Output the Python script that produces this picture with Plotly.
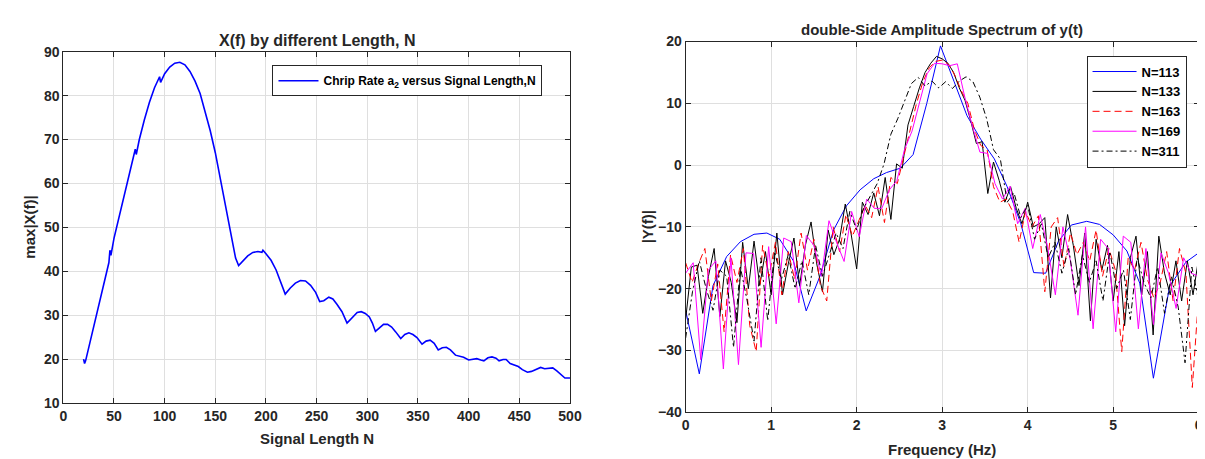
import numpy as np
import plotly.graph_objects as go

# ---- left chart: max|X(f)| versus signal length
sig_len = [20, 21, 22, 25, 30, 35, 40, 45, 46, 47, 50, 55, 60, 65, 70, 71, 72, 75, 80, 85, 90, 95, 96,
           100, 105, 110, 115, 120, 125, 130, 135, 140, 145, 150, 155, 160, 165, 170, 173, 177, 182,
           187, 192, 196, 197, 200, 205, 210, 215, 219, 224, 229, 234, 239, 244, 249, 253, 257, 262,
           266, 270, 272, 275, 280, 285, 290, 294, 298, 302, 305, 308, 312, 316, 320, 324, 328, 333,
           337, 341, 345, 349, 354, 358, 362, 366, 370, 374, 378, 382, 387, 391, 395, 400, 404, 408,
           412, 415, 419, 423, 427, 430, 434, 437, 441, 445, 449, 453, 458, 462, 467, 471, 475, 479,
           483, 487, 491, 495, 500]
max_xf = [20.0, 19.0, 19.6, 22.5, 27.3, 32.0, 37.0, 42.0, 44.8, 43.6, 47.5, 52.2, 57.0, 61.8, 66.5,
          67.8, 66.6, 70.0, 74.5, 78.5, 81.8, 84.3, 83.0, 85.0, 86.5, 87.4, 87.6, 87.0, 85.5, 83.3,
          80.5, 76.5, 72.0, 67.0, 61.0, 55.0, 49.5, 43.0, 41.3, 42.3, 43.5, 44.3, 44.5, 44.3, 44.8,
          44.0, 42.5, 40.3, 37.0, 34.8, 36.2, 37.3, 37.9, 37.8, 36.8, 35.2, 33.1, 33.3, 34.1, 33.7,
          32.5, 31.8, 30.8, 28.2, 29.5, 30.6, 30.8, 30.4, 29.6, 28.2, 26.3, 27.2, 27.9, 27.9, 27.3,
          26.2, 24.7, 25.6, 26.0, 25.6, 24.9, 23.4, 24.1, 24.3, 23.6, 22.1, 22.6, 22.7, 22.1, 20.9,
          20.7, 20.4, 19.8, 19.9, 20.1, 19.8, 19.6, 20.3, 20.5, 20.2, 19.6, 19.9, 19.9, 19.0, 18.6,
          18.3, 17.6, 17.0, 17.2, 17.7, 18.1, 17.8, 17.9, 18.0, 17.3, 16.4, 15.7, 15.7]

# ---- right chart: amplitude spectra
f113 = [0.00, 0.16, 0.32, 0.48, 0.64, 0.80, 0.95, 1.10, 1.26, 1.41, 1.57, 1.73, 1.88, 2.04, 2.20,
        2.35, 2.51, 2.66, 2.82, 2.98, 3.14, 3.29, 3.45, 3.61, 3.76, 3.92, 4.07, 4.21, 4.36, 4.51,
        4.69, 4.84, 5.00, 5.16, 5.31, 5.47, 5.66, 5.85, 6.00]
y113 = [-23.5, -33.8, -19.5, -14.8, -12.4, -11.2, -11.0, -12.0, -15.5, -23.6, -18.0, -10.5, -6.6,
        -4.0, -2.2, -1.2, -0.5, 1.7, 10.0, 19.3, 13.5, 8.0, 4.2, 1.0, -3.5, -9.5, -17.4, -17.5,
        -12.3, -9.7, -9.1, -9.6, -11.3, -13.9, -19.1, -34.5, -19.6, -15.7, -14.2]

y133 = [-25, -16.5, -16.2, -24, -18, -13.5, -24.5, -15.5, -19, -25.5, -12.5, -20, -12.3, -19.5, -14,
        -21, -11, -21, -16, -11.8, -19.5, -13, -9.2, -16, -20.5, -10.5, -14.5, -12, -6.3, -11,
        -16.8, -6, -8, -4.5, -8.2, -2, -8.8, 0.2, -0.5, 6.5, 9.5, 12.5, 15, 16.5, 17.6,
        17.2, 16.5, 15, 12.5, 10.5, 7.2, 3.5, 3.8, -4.6, 0.5, -2.5, -6, -3.5, -7, -9.5,
        -6, -10, -9.5, -8.5, -21.5, -10, -15, -8, -13, -19.5, -11, -25.2, -12, -17, -13,
        -22, -14, -26, -15, -11.5, -21, -14, -27.5, -11.5, -17.5, -21, -15.5, -22, -15.5, -21,
        -15]

y163 = [-15.8, -19, -16, -13.5, -22, -16, -27, -14.5, -19, -13.5, -26, -30.2, -13, -18, -12.5,
        -21, -14, -18.5, -11, -17, -12, -19.5, -22, -10, -14, -8, -11.5, -9, -6.5, -8.5,
        -3.5, -9.3, -2, -3, 1.5, 6, 10, 13.5, 15.8, 16.8, 17.0, 16.3, 14.5, 12, 10,
        5.8, 3.2, 2.5, -3.5, -6, -5.5, -7.5, -12.5, -7.5, -10, -8.2, -20.5, -10, -8.5, -16.5,
        -11, -14.5, -12.5, -15.5, -10.5, -18, -13.5, -17, -30.2, -15, -17, -12.5, -18.5, -21.5, -19,
        -14, -22, -13.5, -17.5, -36, -21]

y169 = [-17.5, -15.8, -31.5, -17, -15.5, -33, -15, -32.3, -14.2, -14.3, -29.5, -13.2, -25.7, -11.8,
        -12.4, -22.3, -11.4, -13, -18, -9.0, -12.5, -15.6, -7.5, -11.6, -5.5, -7.0, -7.0, -4.0,
        -2.5, 2.5, 5.5, 10.0, 14.8, 16.5, 16.4, 16.1, 16.4, 11.0, 6.3, 2.1, 1.9, -3.0, -5.5,
        -3.4, -9.5, -7.0, -13.5, -8.0, -13.5, -21.0, -10.0, -15.5, -24.3, -10.0, -26.5, -12.0,
        -13.5, -27.0, -11.5, -12.5, -26.5, -13.5, -25.8, -14.2, -17.5, -23.2, -15.0, -17.5, -18.0]

y311 = [-28, -20.5, -15.5, -20, -23.5, -17, -18, -29.5, -16.5, -22, -28.5, -15, -25.2, -14, -18.5,
        -14.5, -20, -15.5, -21, -13, -18, -14.5, -11, -13.5, -7.5, -10.5, -7, -5, -3, 0.2,
        5.0, 7.5, 10.5, 13.2, 14.2, 12.8, 13.6, 12.5, 13.5, 12.4, 13.6, 14.3, 13.5, 11, 7.5,
        2.5, 1.0, -6, -4.5, -8.5, -6.5, -12, -9.5, -15, -12.5, -17.5, -13.5, -21, -14.5, -19,
        -15.5, -22, -14, -20, -17, -25, -15, -19, -21.5, -16.5, -24, -18, -23, -32, -16.5,
        -22]

FONT = "Arial, Liberation Sans, Helvetica, sans-serif"
TXT = "#262626"

fig = go.Figure()
fig.add_trace(go.Scatter(x=sig_len, y=max_xf, mode="lines", line=dict(color="#0000ff", width=1.6),
                         name="Chrip Rate a<sub>2</sub> versus Signal Length,N", showlegend=True,
                         xaxis="x", yaxis="y", legend="legend"))

spectra = [("N=113", f113, y113, "#0000ff", "solid"),
           ("N=133", None, y133, "#000000", "solid"),
           ("N=163", None, y163, "#ff0000", "7px,4px"),
           ("N=169", None, y169, "#ff00ff", "solid"),
           ("N=311", None, y311, "#000000", "6px,3px,2px,3px")]
for name, fx, fy, col, dash in spectra:
    if fx is None:
        fx = np.linspace(0, 6, len(fy))
    fig.add_trace(go.Scatter(x=fx, y=fy, mode="lines", name=name, showlegend=True,
                             line=dict(color=col, width=1, dash=dash),
                             xaxis="x2", yaxis="y2", legend="legend2"))

def ax(domain, rng, dtick, anchor):
    return dict(domain=domain, range=rng, dtick=dtick, anchor=anchor, showgrid=True,
                gridcolor="#dfdfdf", gridwidth=1, showline=True, linecolor=TXT, linewidth=1,
                mirror="ticks", ticks="inside", ticklen=5, tickcolor=TXT, zeroline=False,
                tickfont=dict(family=FONT, size=14, color=TXT, weight="bold"))

W, H = 1205, 459
fig.update_layout(
    width=W, height=H, margin=dict(l=0, r=0, t=0, b=0), showlegend=True,
    paper_bgcolor="white", plot_bgcolor="white",
    xaxis=ax([52 / W, 565.5 / W], [0, 500], 50, "y"),
    yaxis=ax([1 - 401 / H, 1 - 37 / H], [10, 90], 10, "x"),
    xaxis2=ax([682.7 / W, 1202.7 / W], [0, 6], 1, "y2"),
    yaxis2=ax([1 - 410.5 / H, 1 - 26.5 / H], [-40, 20], 10, "x2"),
    legend=dict(x=264 / W, y=1 - 51 / H, xanchor="left", yanchor="top", bgcolor="white",
                bordercolor=TXT, borderwidth=1, itemwidth=40,
                font=dict(family=FONT, size=12, color="#000000", weight="bold")),
    legend2=dict(x=1089 / W, y=1 - 41 / H, xanchor="left", yanchor="top", bgcolor="white",
                 bordercolor=TXT, borderwidth=1, tracegroupgap=0, itemwidth=44,
                 font=dict(family=FONT, size=13, color="#000000", weight="bold")),
)

labels = [
    ("X(f) by different Length, N", (52 + 565.5) / 2 / W, 1 - 25 / H, 0, 16),
    ("Signal Length N", (52 + 565.5) / 2 / W, 1 - 438 / H, 0, 15),
    ("max|X(f)|", 17.5 / W, 1 - 219 / H, -90, 15),
    ("double-Side Amplitude Spectrum of y(t)", (682.7 + 1202.7) / 2 / W, 1 - 13.5 / H, 0, 15),
    ("Frequency (Hz)", (682.7 + 1202.7) / 2 / W, 1 - 449 / H, 0, 15),
    ("|Y(f)|", 644 / W, 1 - 218.5 / H, -90, 15),
]
for text, x, y, ang, size in labels:
    fig.add_annotation(text=text, x=x, y=y, xref="paper", yref="paper", showarrow=False,
                       xanchor="center", yanchor="middle", textangle=ang,
                       font=dict(family=FONT, size=size, color=TXT, weight="bold"))

fig.write_html("out.html")
